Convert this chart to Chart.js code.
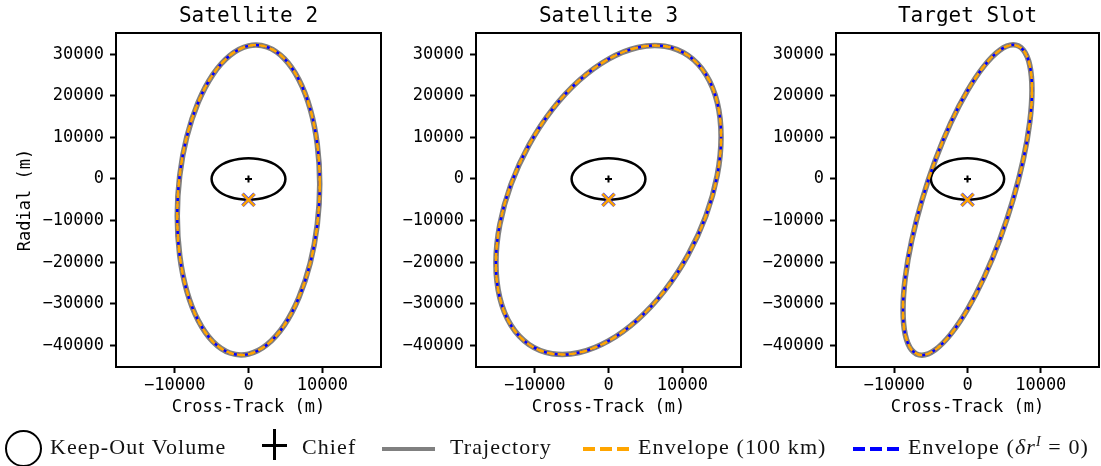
<!DOCTYPE html>
<html>
<head>
<meta charset="utf-8">
<script src="https://cdn.jsdelivr.net/npm/chart.js@4.4.1/dist/chart.umd.min.js"></script>
<style>
    body { margin: 0; background: #fff; width: 1101px; height: 466px; overflow: hidden; position: relative; }
    .panel { position: absolute; top: 0; height: 420px; }
    .legend { position: absolute; left: 0; top: 0; width: 1101px; height: 466px; pointer-events: none;
              font-family: "Liberation Serif", serif; font-size: 22px; letter-spacing: 1.1px; color: #111; }
    .legend span.txt { position: absolute; top: 436px; line-height: 22px; white-space: nowrap; }
    .legend .mark { position: absolute; }
</style>
</head>
<body>
<div class="panel" style="left:0;width:382px"><canvas id="sat2"></canvas></div>
<div class="panel" style="left:360px;width:382px"><canvas id="sat3"></canvas></div>
<div class="panel" style="left:720px;width:380px"><canvas id="slot"></canvas></div>

<div class="legend">
    <div class="mark" style="left:5px;top:430px;width:33px;height:33px;border:2px solid #000;border-radius:50%"></div>
    <span class="txt" style="left:50px">Keep-Out Volume</span>
    <div class="mark" style="left:262px;top:444px;width:25px;height:3px;background:#000"></div>
    <div class="mark" style="left:273px;top:429px;width:3px;height:31px;background:#000"></div>
    <span class="txt" style="left:302px">Chief</span>
    <div class="mark" style="left:382px;top:447px;width:53px;height:4px;background:#808080"></div>
    <span class="txt" style="left:450px">Trajectory</span>
    <div class="mark" style="left:583px;top:447px;width:46px;height:4px;background:repeating-linear-gradient(90deg,#ffa500 0 12px,transparent 12px 17px)"></div>
    <span class="txt" style="left:638px">Envelope (100 km)</span>
    <div class="mark" style="left:853px;top:447px;width:46px;height:4px;background:repeating-linear-gradient(90deg,#0000ff 0 12px,transparent 12px 17px)"></div>
    <span class="txt" style="left:908px">Envelope (<i>&delta;r</i><sup style="font-size:14px;vertical-align:8px;line-height:0"><i>I</i></sup> = 0)</span>
</div>

<script>
// Panel titles and axis ticks
const panelTitles = ['Satellite 2', 'Satellite 3', 'Target Slot'];
const xTicks = [-10000, 0, 10000];
const yTicks = [-40000, -30000, -20000, -10000, 0, 10000, 20000, 30000];

// Keep-out volume (5 km sphere) and markers
const keepOutX = [5000, 4830, 4330, 3540, 2500, 1290, 0, -1290, -2500, -3540, -4330, -4830,
                  -5000, -4830, -4330, -3540, -2500, -1290, 0, 1290, 2500, 3540, 4330, 4830];
const keepOutY = [0, 1290, 2500, 3540, 4330, 4830, 5000, 4830, 4330, 3540, 2500, 1290,
                  0, -1290, -2500, -3540, -4330, -4830, -5000, -4830, -4330, -3540, -2500, -1290];
const chiefX = [0];
const chiefY = [0];
const startX = [0];
const startY = [-5000];

// Satellite 2 trajectory (m)
const sat2X = [9650, 9320, 8360, 6820, 4830, 2500, 0, -2500, -4830, -6820, -8360, -9320,
               -9650, -9320, -8360, -6820, -4830, -2500, 0, 2500, 4830, 6820, 8360, 9320];
const sat2Y = [-1180, 8280, 16830, 23890, 28970, 31740, 32000, 29730, 25100, 18410, 10120, 800,
               -8920, -18380, -26930, -33990, -39070, -41840, -42100, -39830, -35200, -28510, -20220, -10900];

// Satellite 3 trajectory (m)
const sat3X = [15250, 14730, 13210, 10780, 7630, 3950, 0, -3950, -7630, -10780, -13210, -14730,
               -15250, -14730, -13210, -10780, -7630, -3950, 0, 3950, 7630, 10780, 13210, 14730];
const sat3Y = [10180, 18430, 25080, 29680, 31910, 31620, 28830, 23730, 16680, 8140, -1300, -11000,
               -20280, -28530, -35180, -39780, -42010, -41720, -38930, -33830, -26780, -18240, -8800, 900];

// Target slot trajectory (m)
const slotX = [8800, 8500, 7620, 6220, 4400, 2280, 0, -2280, -4400, -6220, -7620, -8500,
               -8800, -8500, -7620, -6220, -4400, -2280, 0, 2280, 4400, 6220, 7620, 8500];
const slotY = [21400, 27300, 31000, 32250, 30950, 27200, 21250, 13510, 4500, -5160, -14800, -23790,
               -31500, -37400, -41100, -42350, -41050, -37300, -31350, -23610, -14600, -4950, 4700, 13690];

Chart.defaults.font.family = '"DejaVu Sans Mono", monospace';
Chart.defaults.color = '#000';

function toPoints(xs, ys) {
    return xs.map((x, i) => ({ x: x, y: ys[i] }));
}

function minusSign(v) {
    return String(v).replace('-', '\u2212');
}

// Make closed curves join smoothly at the seam
const closeLoop = {
    id: 'closeLoop',
    afterDatasetsUpdate(chart) {
        chart.data.datasets.forEach((ds, i) => {
            const line = chart.getDatasetMeta(i).dataset;
            if (ds.closed && line) {
                line._loop = true;
                line._fullLoop = true;
                line.points = line.points;
            }
        });
    }
};

// Black box round the plot area
const frame = {
    id: 'frame',
    afterDraw(chart) {
        const { ctx, chartArea: a } = chart;
        ctx.save();
        ctx.strokeStyle = '#000';
        ctx.lineWidth = 2;
        ctx.strokeRect(a.left, a.top, a.right - a.left, a.bottom - a.top);
        ctx.restore();
    }
};

function makeDatasets(trajX, trajY) {
    const traj = toPoints(trajX, trajY);
    const curve = { showLine: true, pointRadius: 0, tension: 0.34, closed: true, borderJoinStyle: 'round' };
    return [
        { ...curve, label: 'Keep-Out Volume', data: toPoints(keepOutX, keepOutY), borderColor: '#000', borderWidth: 2.5, order: 4 },
        { label: 'Chief', data: toPoints(chiefX, chiefY), pointStyle: 'cross', pointRadius: 3.5,
          pointBorderWidth: 2, borderColor: '#000', order: 0 },
        { label: 'Start', data: toPoints(startX, startY), pointStyle: 'crossRot', pointRadius: 8.5,
          pointBorderWidth: 2.5, borderColor: '#ffa500', order: 0 },
        { label: 'Start (blue)', data: toPoints(startX, startY), pointStyle: 'crossRot', pointRadius: 8.5,
          pointBorderWidth: 3.5, borderColor: '#3030ff', order: 1 },
        { ...curve, label: 'Envelope (100 km)', data: traj, borderColor: '#ffa500', borderWidth: 2.5,
          borderDash: [8, 3], order: 2 },
        { ...curve, label: 'Envelope (dr = 0)', data: traj, borderColor: '#0000ff', borderWidth: 2.5,
          borderDash: [8, 3], borderDashOffset: 5, order: 3 },
        { ...curve, label: 'Trajectory', data: traj, borderColor: '#808080', borderWidth: 5.5, order: 5 }
    ];
}

function renderPanel(canvasId, title, trajX, trajY, showYTitle) {
    new Chart(canvasId, {
        type: 'scatter',
        data: { datasets: makeDatasets(trajX, trajY) },
        options: {
            responsive: true,
            maintainAspectRatio: false,
            animation: false,
            events: [],
            layout: { padding: { right: 1 }, autoPadding: false },
            plugins: {
                legend: { display: false },
                tooltip: { enabled: false },
                title: {
                    display: true,
                    fullSize: false,
                    text: title,
                    color: '#000',
                    font: { size: 21, weight: 'normal', lineHeight: 1.2 },
                    padding: { top: 4, bottom: 3.8 }
                }
            },
            scales: {
                x: {
                    type: 'linear',
                    min: -17950,
                    max: 17950,
                    afterBuildTicks: s => { s.ticks = xTicks.map(v => ({ value: v })); },
                    afterFit: s => { s.height = 53; },
                    grid: { drawOnChartArea: false, drawTicks: true, tickLength: 6, tickWidth: 2, tickColor: '#000' },
                    border: { display: false },
                    ticks: { font: { size: 17 }, padding: 2, maxRotation: 0, callback: v => minusSign(v) },
                    title: { display: true, text: 'Cross-Track (m)', font: { size: 17 }, padding: { top: 0, bottom: 2 } }
                },
                y: {
                    type: 'linear',
                    min: -45200,
                    max: 35100,
                    afterBuildTicks: s => { s.ticks = yTicks.map(v => ({ value: v })); },
                    afterFit: s => { s.width = 116; },
                    grid: { drawOnChartArea: false, drawTicks: true, tickLength: 6, tickWidth: 2, tickColor: '#000' },
                    border: { display: false },
                    ticks: { font: { size: 17 }, padding: 6, callback: v => minusSign(v) },
                    title: { display: showYTitle, text: 'Radial (m)', font: { size: 17 }, padding: { top: 15, bottom: 0 } }
                }
            }
        },
        plugins: [closeLoop, frame]
    });
}

renderPanel('sat2', panelTitles[0], sat2X, sat2Y, true);
renderPanel('sat3', panelTitles[1], sat3X, sat3Y, false);
renderPanel('slot', panelTitles[2], slotX, slotY, false);
</script>
</body>
</html>
